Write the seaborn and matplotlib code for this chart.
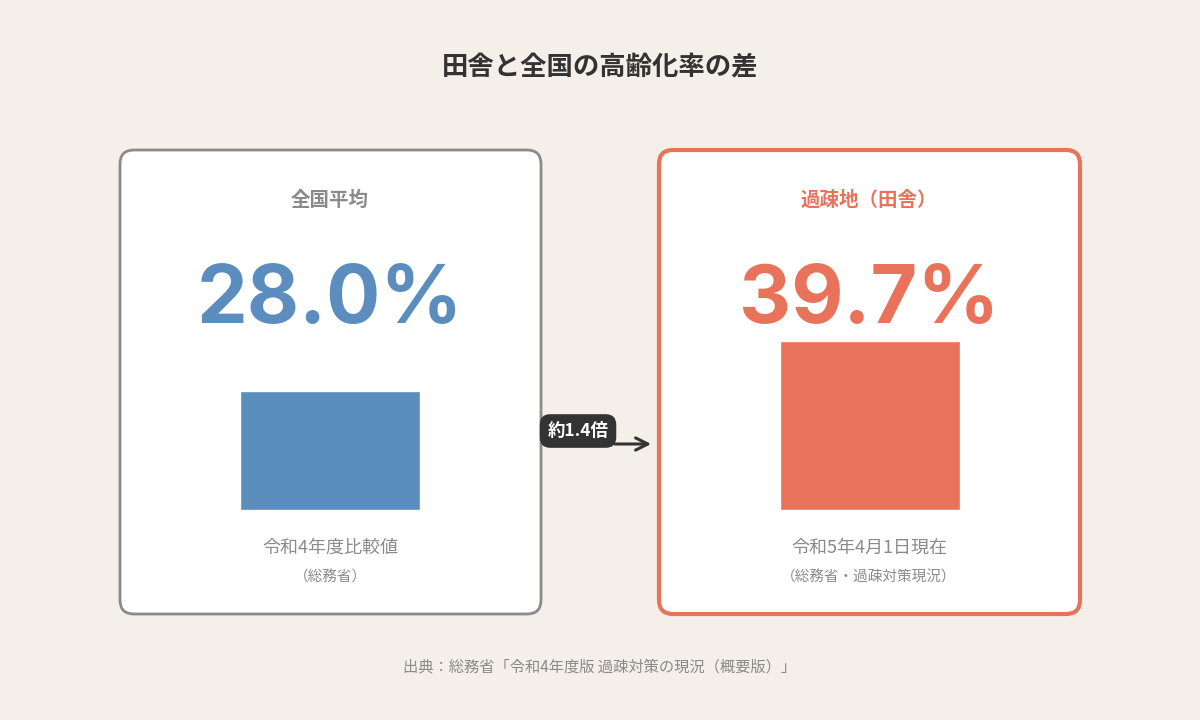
import matplotlib
matplotlib.use("Agg")
import matplotlib.pyplot as plt
import seaborn as sns
from matplotlib.patches import FancyBboxPatch

# data
labels = ["全国平均", "過疎地（田舎）"]
values = [28.0, 39.7]
notes = ["令和4年度比較値", "令和5年4月1日現在"]
sources = ["（総務省）", "（総務省・過疎対策現況）"]
colors = ["#5B8DBE", "#E8735A"]
ratio_label = "約1.4倍"

BG = "#F4EFE9"
sns.set_theme(style="white")
plt.rcParams["font.family"] = ["Noto Sans CJK JP", "DejaVu Sans"]

fig = plt.figure(figsize=(12, 7.2), dpi=100, facecolor=BG)

# background layer in pixel coords
ax = fig.add_axes([0, 0, 1, 1])
ax.set_xlim(0, 1200)
ax.set_ylim(720, 0)
ax.axis("off")
ax.set_facecolor(BG)

ax.text(600, 68, "田舎と全国の高齢化率の差", ha="center", va="center",
        fontsize=19, fontweight="bold", color="#333333")

cards = [(120, "#8A8A8A", 2), (659, colors[1], 3)]
for i, (x0, ec, lw) in enumerate(cards):
    ax.add_patch(FancyBboxPatch((x0, 150), 421, 464, boxstyle="round,pad=0,rounding_size=14",
                                fc="white", ec=ec, lw=lw))
    cx = x0 + 210
    ax.text(cx, 200, labels[i], ha="center", va="center", fontsize=14, fontweight="bold",
            color="#8A8A8A" if i == 0 else colors[1])
    ax.text(cx, 302, f"{values[i]:.1f}%", ha="center", va="center", fontsize=58,
            fontweight="bold", color=colors[i], family=["Inter", "DejaVu Sans"])
    ax.text(cx, 548, notes[i], ha="center", va="center", fontsize=13, color="#8A8A8A")
    ax.text(cx, 578, sources[i], ha="center", va="center", fontsize=10.5, color="#8A8A8A")

# ratio badge and arrow
ax.annotate("", xy=(654, 444), xytext=(612, 444),
            arrowprops=dict(arrowstyle="->", color="#333333", lw=2.2, mutation_scale=22))
ax.text(578, 431, ratio_label, ha="center", va="center", fontsize=12.5, fontweight="bold",
        color="white", bbox=dict(boxstyle="round,pad=0.45,rounding_size=0.6", fc="#333333", ec="none"))

ax.text(600, 667, "出典：総務省「令和4年度版 過疎対策の現況（概要版）」", ha="center", va="center",
        fontsize=11, color="#8A8A8A")

# bars on their own value scale
bax = fig.add_axes([0, (720 - 510) / 720, 1, (510 - 341) / 720])
bax.set_xlim(0, 1200)
bax.set_ylim(0, max(values))
bax.axis("off")
bax.patch.set_alpha(0)
bax.bar([330, 870], values, width=180, color=colors)

fig.savefig("out.png", dpi=100, facecolor=BG)
